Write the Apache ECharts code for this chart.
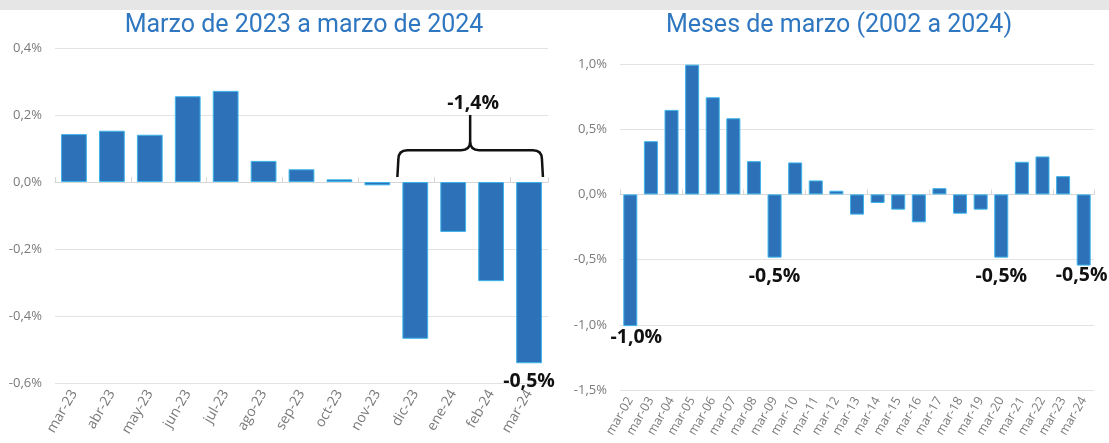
<!DOCTYPE html>
<html>
<head>
<meta charset="utf-8">
<script src="https://cdn.jsdelivr.net/npm/echarts@6/dist/echarts.min.js"></script>
<style>
html,body{margin:0;padding:0;background:#fff;}
#c{width:1109px;height:443px;}
</style>
</head>
<body>
<div id="c"></div>
<script>
const leftTitle = 'Marzo de 2023 a marzo de 2024';
const rightTitle = 'Meses de marzo (2002 a 2024)';
const leftCategories = ['mar-23','abr-23','may-23','jun-23','jul-23','ago-23','sep-23','oct-23','nov-23','dic-23','ene-24','feb-24','mar-24'];
const leftValues = [0.143,0.153,0.141,0.256,0.272,0.063,0.038,0.008,-0.010,-0.468,-0.149,-0.296,-0.541];
const rightCategories = ['mar-02','mar-03','mar-04','mar-05','mar-06','mar-07','mar-08','mar-09','mar-10','mar-11','mar-12','mar-13','mar-14','mar-15','mar-16','mar-17','mar-18','mar-19','mar-20','mar-21','mar-22','mar-23','mar-24'];
const rightValues = [-1.01,0.408,0.648,0.995,0.745,0.584,0.255,-0.485,0.245,0.107,0.028,-0.155,-0.066,-0.117,-0.214,0.048,-0.148,-0.117,-0.485,0.250,0.291,0.140,-0.546];
const leftAxis = {min:-0.6, max:0.4, interval:0.2};
const rightAxis = {min:-1.5, max:1.0, interval:0.5};
const leftLabeled = [12];
const rightLabeled = [0,7,18,22];
const bracketSpan = [9,12];
const bracketText = '-1,4%';

const pct = v => (Math.round(v*10)/10).toFixed(1).replace('.',',') + '%';
const BAR = '#2d71b8', BORDER = '#3cb4ea', GRID = '#e3e3e3', TXT = '#7a7a7a';
const labelFont = {fontFamily:'Open Sans', fontWeight:'bold', fontSize:19.5, color:'#111'};

// per-item label tweaks (styling only)
const leftLabelStyle = {12:{distance:8, offset:[0,0]}};
const rightLabelStyle = {0:{distance:1, offset:[6,0]},7:{distance:9, offset:[0,0]},18:{distance:9, offset:[0,0]},22:{distance:0, offset:[-2,0]}};

function items(values, labeled, styles){
  return values.map((v,i)=>{
    const it = {value:v};
    if(labeled.includes(i)){
      const s = styles[i];
      it.label = Object.assign({show:true, position:'bottom', distance:s.distance, offset:s.offset, formatter:p=>pct(p.value)}, labelFont);
    }
    return it;
  });
}

function yAx(grid, cfg){
  return Object.assign({type:'value', gridIndex:grid,
    axisLabel:{formatter:v=>pct(v), color:TXT, fontFamily:'Open Sans', fontSize:13, margin:13},
    splitLine:{lineStyle:{color:GRID, width:1}},
    axisLine:{show:false}, axisTick:{show:false}}, cfg);
}
function xLab(grid, cats, fs){
  return {type:'category', gridIndex:grid, data:cats, position:'bottom',
    axisLine:{show:false, onZero:false}, axisTick:{show:false},
    axisLabel:{rotate:60, color:TXT, fontFamily:'Open Sans', fontSize:fs, margin:8, interval:0}};
}
function xZero(grid, cats){
  return {type:'category', gridIndex:grid, data:cats,
    axisLine:{show:true, onZero:true, lineStyle:{color:'#d6d6d6', width:1}},
    axisTick:{show:true, length:5, lineStyle:{color:'#d6d6d6'}},
    axisLabel:{show:false}, splitLine:{show:false}};
}

const chart = echarts.init(document.getElementById('c'), null, {renderer:'canvas'});
chart.setOption({
  backgroundColor:'#fff',
  animation:false,
  graphic:[{type:'rect', left:0, top:0, shape:{width:1109, height:10}, style:{fill:'#e6e6e6'}, silent:true}],
  title:[
    {text:leftTitle, left:299, top:8, textAlign:'center', textStyle:{color:'#2f77c0', fontFamily:'Roboto', fontWeight:'normal', fontSize:25}},
    {text:rightTitle, left:834, top:8, textAlign:'center', textStyle:{color:'#2f77c0', fontFamily:'Roboto', fontWeight:'normal', fontSize:25}}
  ],
  grid:[
    {left:55, right:561, top:48, bottom:60},
    {left:620, right:15, top:64, bottom:53}
  ],
  xAxis:[xLab(0,leftCategories,14), xZero(0,leftCategories), xLab(1,rightCategories,12.5), xZero(1,rightCategories)],
  yAxis:[yAx(0,leftAxis), yAx(1,rightAxis)],
  series:[
    {type:'bar', xAxisIndex:0, yAxisIndex:0, barCategoryGap:'32%', data:items(leftValues,leftLabeled,leftLabelStyle),
      itemStyle:{color:BAR, borderColor:BORDER, borderWidth:1}},
    {type:'bar', xAxisIndex:2, yAxisIndex:1, barCategoryGap:'32%', data:items(rightValues,rightLabeled,rightLabelStyle),
      itemStyle:{color:BAR, borderColor:BORDER, borderWidth:1}},
    {type:'custom', xAxisIndex:0, yAxisIndex:0, z:10, data:[bracketSpan],
      renderItem:function(params, api){
        const s = api.value(0), e = api.value(1);
        const bw = api.size([1,0])[0];
        const xl = api.coord([s,0])[0] - bw*0.34 - 5;
        const xr = api.coord([e,0])[0] + bw*0.34 + 1;
        const xc = (xl+xr)/2;
        const yb = api.coord([s,0.015])[1];
        const yh = api.coord([s,0.095])[1];
        const yp = api.coord([s,0.2])[1];
        const r = 9;
        const d = `M${xl} ${yb} L${xl+1} ${yh+r} Q${xl+1} ${yh} ${xl+r+1} ${yh} L${xc-r} ${yh} Q${xc} ${yh} ${xc} ${yh-r} L${xc} ${yp} ` +
                  `M${xc} ${yh-r} Q${xc} ${yh} ${xc+r} ${yh} L${xr-r-1} ${yh} Q${xr-1} ${yh} ${xr-1} ${yh+r} L${xr} ${yb}`;
        return {type:'group', children:[
          {type:'path', shape:{pathData:d}, style:{fill:null, stroke:'#111', lineWidth:2.5}},
          {type:'text', style:{text:bracketText, x:xc+3, y:yp-2, textAlign:'center', textVerticalAlign:'bottom',
            font:'bold 19.5px "Open Sans"', fill:'#111'}}
        ]};
      }}
  ]
});
</script>
</body>
</html>
